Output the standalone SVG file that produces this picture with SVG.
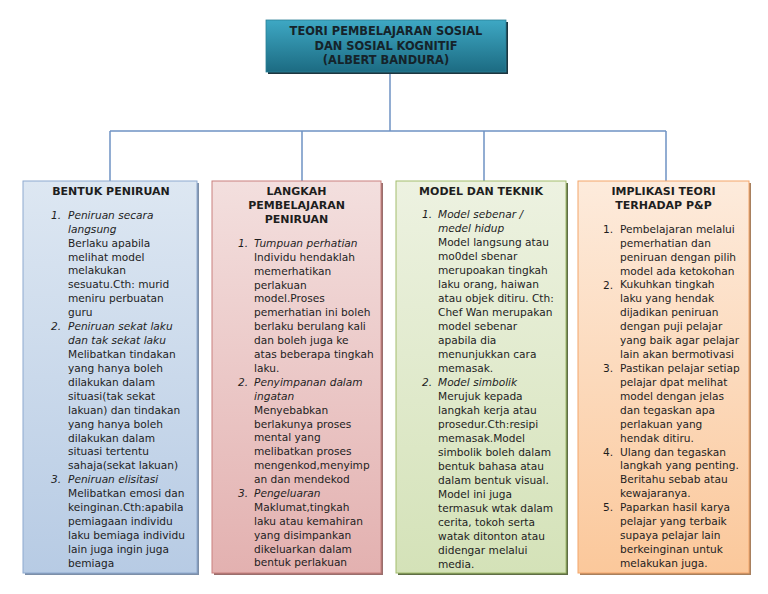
<svg xmlns="http://www.w3.org/2000/svg" width="768" height="594" viewBox="0 0 768 594">
<defs>
<linearGradient id="gT" x1="0" y1="0" x2="0" y2="1"><stop offset="0" stop-color="#3ea8c4"/><stop offset="1" stop-color="#1c6b82"/></linearGradient>
<linearGradient id="g1" x1="0" y1="0" x2="0" y2="1"><stop offset="0" stop-color="#dde7f2"/><stop offset="1" stop-color="#b7cbe4"/></linearGradient>
<linearGradient id="g2" x1="0" y1="0" x2="0" y2="1"><stop offset="0" stop-color="#f3dfde"/><stop offset="1" stop-color="#e3b1b0"/></linearGradient>
<linearGradient id="g3" x1="0" y1="0" x2="0" y2="1"><stop offset="0" stop-color="#edf2e1"/><stop offset="1" stop-color="#d4e2b8"/></linearGradient>
<linearGradient id="g4" x1="0" y1="0" x2="0" y2="1"><stop offset="0" stop-color="#fdebdc"/><stop offset="1" stop-color="#fbc89b"/></linearGradient>
<style>
text{font-family:"DejaVu Sans","Liberation Sans",sans-serif;fill:#1e1e1e}
.t{font-size:11.4px;font-weight:bold;text-anchor:middle;fill:#15232a}
.h{font-size:11px;font-weight:bold;text-anchor:middle}
.b{font-size:10.6px}
.i{font-style:italic}
.c{fill:none;stroke:#6f93c4;stroke-width:1.5}
</style>
</defs>
<g id="connectors">
<path class="c" d="M390 72V131M110 131H666M110 131V181M302 131V181M484 131V181M666 131V181"/>
</g>
<g id="title">
<rect x="268" y="22" width="240" height="52" fill="#1d3640"/>
<rect x="266" y="20" width="240" height="52" fill="url(#gT)" stroke="#2a7f96" stroke-width="0.8"/>
<text class="t" x="386" y="35">TEORI PEMBELAJARAN SOSIAL</text>
<text class="t" x="386" y="49.5">DAN SOSIAL KOGNITIF</text>
<text class="t" x="386" y="64">(ALBERT BANDURA)</text>
</g>
<g id="bentuk">
<rect x="25" y="183" width="174" height="392" fill="#7d8fa8"/>
<rect x="23" y="181" width="174" height="392" fill="url(#g1)" stroke="#8eaad0" stroke-width="1"/>
<text class="h" x="111" y="195">BENTUK PENIRUAN</text>
<text class="b i" x="51" y="218.8">1.</text>
<text class="b i" x="51" y="330.2">2.</text>
<text class="b i" x="51" y="483.3">3.</text>
<text class="b">
<tspan class="i" x="68" y="218.8">Peniruan secara</tspan>
<tspan class="i" x="68" dy="13.92">langsung</tspan>
<tspan x="68" dy="13.92">Berlaku apabila</tspan>
<tspan x="68" dy="13.92">melihat model</tspan>
<tspan x="68" dy="13.92">melakukan</tspan>
<tspan x="68" dy="13.92">sesuatu.Cth: murid</tspan>
<tspan x="68" dy="13.92">meniru perbuatan</tspan>
<tspan x="68" dy="13.92">guru</tspan>
<tspan class="i" x="68" dy="13.92">Peniruan sekat laku</tspan>
<tspan class="i" x="68" dy="13.92">dan tak sekat laku</tspan>
<tspan x="68" dy="13.92">Melibatkan tindakan</tspan>
<tspan x="68" dy="13.92">yang hanya boleh</tspan>
<tspan x="68" dy="13.92">dilakukan dalam</tspan>
<tspan x="68" dy="13.92">situasi(tak sekat</tspan>
<tspan x="68" dy="13.92">lakuan) dan tindakan</tspan>
<tspan x="68" dy="13.92">yang hanya boleh</tspan>
<tspan x="68" dy="13.92">dilakukan dalam</tspan>
<tspan x="68" dy="13.92">situasi tertentu</tspan>
<tspan x="68" dy="13.92">sahaja(sekat lakuan)</tspan>
<tspan class="i" x="68" dy="13.92">Peniruan elisitasi</tspan>
<tspan x="68" dy="13.92">Melibatkan emosi dan</tspan>
<tspan x="68" dy="13.92">keinginan.Cth:apabila</tspan>
<tspan x="68" dy="13.92">pemiagaan individu</tspan>
<tspan x="68" dy="13.92">laku bemiaga individu</tspan>
<tspan x="68" dy="13.92">lain juga ingin juga</tspan>
<tspan x="68" dy="13.92">bemiaga</tspan>
</text>
</g>
<g id="langkah">
<rect x="214" y="183" width="169" height="392" fill="#9a6e6d"/>
<rect x="212" y="181" width="169" height="392" fill="url(#g2)" stroke="#c9807e" stroke-width="1"/>
<text class="h" x="296.5" y="195">LANGKAH</text>
<text class="h" x="296.5" y="209">PEMBELAJARAN</text>
<text class="h" x="296.5" y="223">PENIRUAN</text>
<text class="b i" x="238" y="246.8">1.</text>
<text class="b i" x="238" y="385.8">2.</text>
<text class="b i" x="238" y="497">3.</text>
<text class="b">
<tspan class="i" x="254" y="246.8">Tumpuan perhatian</tspan>
<tspan x="254" dy="13.9">Individu hendaklah</tspan>
<tspan x="254" dy="13.9">memerhatikan</tspan>
<tspan x="254" dy="13.9">perlakuan</tspan>
<tspan x="254" dy="13.9">model.Proses</tspan>
<tspan x="254" dy="13.9">pemerhatian ini boleh</tspan>
<tspan x="254" dy="13.9">berlaku berulang kali</tspan>
<tspan x="254" dy="13.9">dan boleh juga ke</tspan>
<tspan x="254" dy="13.9">atas beberapa tingkah</tspan>
<tspan x="254" dy="13.9">laku.</tspan>
<tspan class="i" x="254" dy="13.9">Penyimpanan dalam</tspan>
<tspan class="i" x="254" dy="13.9">ingatan</tspan>
<tspan x="254" dy="13.9">Menyebabkan</tspan>
<tspan x="254" dy="13.9">berlakunya proses</tspan>
<tspan x="254" dy="13.9">mental yang</tspan>
<tspan x="254" dy="13.9">melibatkan proses</tspan>
<tspan x="254" dy="13.9">mengenkod,menyimp</tspan>
<tspan x="254" dy="13.9">an dan mendekod</tspan>
<tspan class="i" x="254" dy="13.9">Pengeluaran</tspan>
<tspan x="254" dy="13.9">Maklumat,tingkah</tspan>
<tspan x="254" dy="13.9">laku atau kemahiran</tspan>
<tspan x="254" dy="13.9">yang disimpankan</tspan>
<tspan x="254" dy="13.9">dikeluarkan dalam</tspan>
<tspan x="254" dy="13.9">bentuk perlakuan</tspan>
</text>
</g>
<g id="model">
<rect x="398" y="183" width="170" height="392" fill="#5f6e45"/>
<rect x="396" y="181" width="170" height="392" fill="url(#g3)" stroke="#a3bd6e" stroke-width="1"/>
<text class="h" x="481" y="195">MODEL DAN TEKNIK</text>
<text class="b i" x="422" y="217.8">1.</text>
<text class="b i" x="422" y="385.8">2.</text>
<text class="b">
<tspan class="i" x="438" y="217.8">Model sebenar /</tspan>
<tspan class="i" x="438" dy="14">medel hidup</tspan>
<tspan x="438" dy="14">Model langsung atau</tspan>
<tspan x="438" dy="14">mo0del sbenar</tspan>
<tspan x="438" dy="14">merupoakan tingkah</tspan>
<tspan x="438" dy="14">laku orang, haiwan</tspan>
<tspan x="438" dy="14">atau objek ditiru. Cth:</tspan>
<tspan x="438" dy="14">Chef Wan merupakan</tspan>
<tspan x="438" dy="14">model sebenar</tspan>
<tspan x="438" dy="14">apabila dia</tspan>
<tspan x="438" dy="14">menunjukkan cara</tspan>
<tspan x="438" dy="14">memasak.</tspan>
<tspan class="i" x="438" dy="14">Model simbolik</tspan>
<tspan x="438" dy="14">Merujuk kepada</tspan>
<tspan x="438" dy="14">langkah kerja atau</tspan>
<tspan x="438" dy="14">prosedur.Cth:resipi</tspan>
<tspan x="438" dy="14">memasak.Model</tspan>
<tspan x="438" dy="14">simbolik boleh dalam</tspan>
<tspan x="438" dy="14">bentuk bahasa atau</tspan>
<tspan x="438" dy="14">dalam bentuk visual.</tspan>
<tspan x="438" dy="14">Model ini juga</tspan>
<tspan x="438" dy="14">termasuk wtak dalam</tspan>
<tspan x="438" dy="14">cerita, tokoh serta</tspan>
<tspan x="438" dy="14">watak ditonton atau</tspan>
<tspan x="438" dy="14">didengar melalui</tspan>
<tspan x="438" dy="14">media.</tspan>
</text>
</g>
<g id="implikasi">
<rect x="580" y="183" width="171" height="392" fill="#a8805e"/>
<rect x="578" y="181" width="171" height="392" fill="url(#g4)" stroke="#f4a66a" stroke-width="1"/>
<text class="h" x="663.5" y="195">IMPLIKASI TEORI</text>
<text class="h" x="663.5" y="209">TERHADAP P&amp;P</text>
<text class="b" x="603" y="232.8">1.</text>
<text class="b" x="603" y="288.5">2.</text>
<text class="b" x="603" y="372">3.</text>
<text class="b" x="603" y="455.5">4.</text>
<text class="b" x="603" y="511.2">5.</text>
<text class="b">
<tspan x="620" y="232.8">Pembelajaran melalui</tspan>
<tspan x="620" dy="13.92">pemerhatian dan</tspan>
<tspan x="620" dy="13.92">peniruan dengan pilih</tspan>
<tspan x="620" dy="13.92">model ada ketokohan</tspan>
<tspan x="620" dy="13.92">Kukuhkan tingkah</tspan>
<tspan x="620" dy="13.92">laku yang hendak</tspan>
<tspan x="620" dy="13.92">dijadikan peniruan</tspan>
<tspan x="620" dy="13.92">dengan puji pelajar</tspan>
<tspan x="620" dy="13.92">yang baik agar pelajar</tspan>
<tspan x="620" dy="13.92">lain akan bermotivasi</tspan>
<tspan x="620" dy="13.92">Pastikan pelajar setiap</tspan>
<tspan x="620" dy="13.92">pelajar dpat melihat</tspan>
<tspan x="620" dy="13.92">model dengan jelas</tspan>
<tspan x="620" dy="13.92">dan tegaskan apa</tspan>
<tspan x="620" dy="13.92">perlakuan yang</tspan>
<tspan x="620" dy="13.92">hendak ditiru.</tspan>
<tspan x="620" dy="13.92">Ulang dan tegaskan</tspan>
<tspan x="620" dy="13.92">langkah yang penting.</tspan>
<tspan x="620" dy="13.92">Beritahu sebab atau</tspan>
<tspan x="620" dy="13.92">kewajaranya.</tspan>
<tspan x="620" dy="13.92">Paparkan hasil karya</tspan>
<tspan x="620" dy="13.92">pelajar yang terbaik</tspan>
<tspan x="620" dy="13.92">supaya pelajar lain</tspan>
<tspan x="620" dy="13.92">berkeinginan untuk</tspan>
<tspan x="620" dy="13.92">melakukan juga.</tspan>
</text>
</g>
</svg>
